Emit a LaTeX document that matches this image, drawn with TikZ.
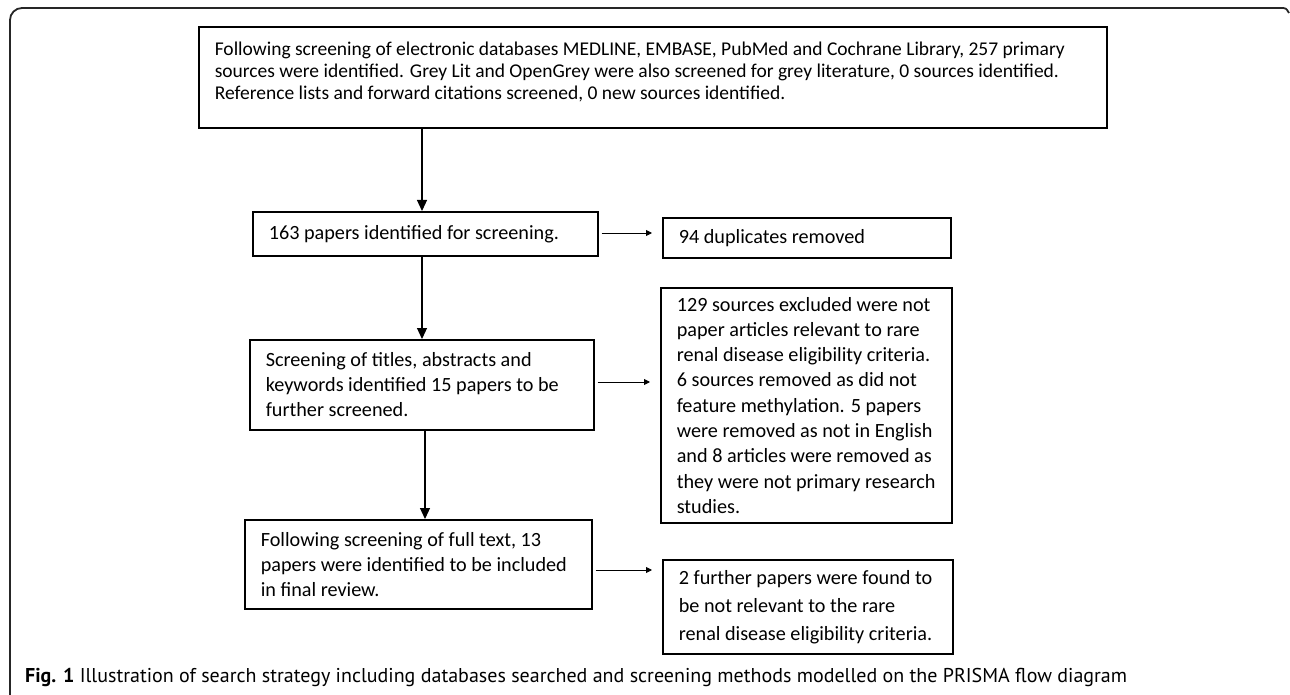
\documentclass[tikz,border=0pt]{standalone}
\usepackage{fontspec}
\setmainfont{Carlito}
\newfontfamily\capfont{PT Sans}
\usetikzlibrary{arrows.meta}
\newcommand\bxc[3]{\parbox[c][#2][c]{#1}{\raggedright #3}}
\newcommand\bxtop[4]{\parbox[c][#2][t]{#1}{\raggedright\vspace*{#3}\strut #4}}
\begin{document}
\begin{tikzpicture}[x=1bp,y=-1bp,
  box/.style={draw=black, line width=1.6bp, anchor=north west,
    inner xsep=16bp, inner ysep=0bp, font=\fontsize{20.2bp}{24.8bp}\selectfont},
  varrow/.style={line width=1.2bp, -{Triangle[length=11bp,width=10bp]}},
  harrow/.style={line width=0.9bp, -{Triangle[length=6bp,width=6bp]}, shorten <=3bp, shorten >=10bp},
  frame/.style={draw=black!85, line width=1.8bp}
]
\useasboundingbox (0,0) rectangle (1290,695);
% outer frame
\draw[frame, rounded corners=12bp] (10,700) -- (10,8) -- (1281,8);
\draw[frame] (1280,8) .. controls (1286,8) .. (1289,13);

\node[box, font=\fontsize{19.5bp}{22bp}\selectfont] (top) at (198,26)
 {\bxtop{876bp}{101bp}{13bp}{Following screening of electronic databases MEDLINE, EMBASE, PubMed and Cochrane Library, 257 primary\\
 sources were identified. Grey Lit and OpenGrey were also screened for grey literature, 0 sources identified.\\
 Reference lists and forward citations screened, 0 new sources identified.}};

\node[box] (b2) at (252,211)
 {\bxc{313bp}{44bp}{163 papers identified for screening.}};

\node[box] (dup) at (662,217)
 {\bxc{256bp}{40bp}{94 duplicates removed}};

\node[box] (b3) at (249,339)
 {\bxc{312bp}{90bp}{Screening of titles, abstracts and\\ keywords identified 15 papers to be\\ further screened.}};

\node[box, font=\fontsize{20.2bp}{25.3bp}\selectfont] (ex) at (660,287)
 {\bxc{259bp}{235bp}{129 sources excluded were not\\ paper articles relevant to rare\\ renal disease eligibility criteria.\\ 6 sources removed as did not\\ feature methylation. 5 papers\\ were removed as not in English\\ and 8 articles were removed as\\ they were not primary research\\ studies.}};

\node[box] (b4) at (244,519)
 {\bxc{315bp}{89bp}{Following screening of full text, 13\\ papers were identified to be included\\ in final review.}};

\node[box, font=\fontsize{20.2bp}{28bp}\selectfont] (fin) at (662,559)
 {\bxc{258bp}{94bp}{2 further papers were found to\\ be not relevant to the rare\\ renal disease eligibility criteria.}};

\node[anchor=base west, inner sep=0pt, font=\capfont\fontsize{20bp}{24bp}\selectfont] (cap) at (25,682)
 {\textbf{Fig. 1} Illustration of search strategy including databases searched and screening methods modelled on the PRISMA flow diagram};

% connectors
\coordinate (xa) at (422,0);
\coordinate (xb) at (425,0);
\draw[varrow] (top.south -| xa) -- (b2.north -| xa);
\draw[varrow] (b2.south -| xa) -- (b3.north -| xa);
\draw[varrow] (b3.south -| xb) -- (b4.north -| xb);

\coordinate (y1) at (0,233);
\coordinate (y2) at (0,382);
\coordinate (y3) at (0,570);
\draw[harrow] (b2.east |- y1) -- (dup.west |- y1);
\draw[harrow] (b3.east |- y2) -- (ex.west |- y2);
\draw[harrow] (b4.east |- y3) -- (fin.west |- y3);
\end{tikzpicture}
\end{document}
